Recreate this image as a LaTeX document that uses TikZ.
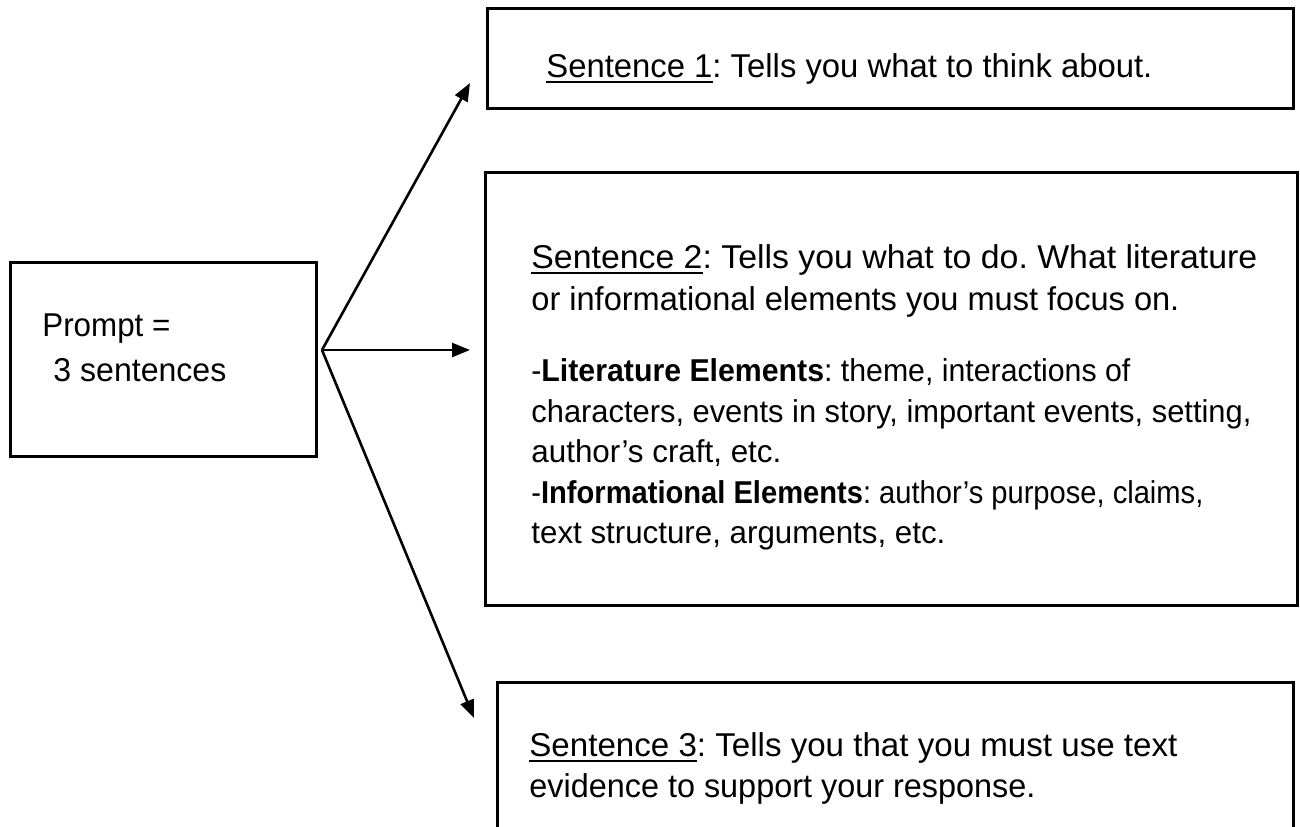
\documentclass[tikz,border=0pt]{standalone}
\usepackage{fontspec}
\setmainfont{Liberation Sans}
\usepackage{graphicx}
\frenchspacing
\newcommand\myul[1]{\setbox0\hbox{#1}\rlap{\rule[-3.2pt]{\wd0}{1.2pt}}#1}
\newsavebox\fitbox
\newcommand\fitw[2]{\sbox\fitbox{#2}\pgfmathsetmacro\fitr{#1/\the\wd\fitbox}\scalebox{\fitr}[1]{\usebox\fitbox}}
\usetikzlibrary{arrows.meta}
\begin{document}
\begin{tikzpicture}[x=0.5pt,y=-0.5pt,
  box/.style={draw, line width=1.5pt, inner sep=0pt},
  txt/.style={anchor=base west, inner sep=0pt, font=\fontsize{16.5}{20}\selectfont},
  smalltxt/.style={anchor=base west, inner sep=0pt, font=\fontsize{15.8}{20}\selectfont},
  arr/.style={line width=1.3pt, -{Triangle[length=9pt,width=7pt]}}]
\useasboundingbox (0,0) rectangle (1300,826);
\clip (0,0) rectangle (1300,826);
\fill[white] (0,0) rectangle (1300,826);

% boxes
\node[box, minimum width=153pt, minimum height=97pt] (prompt) at (163,359) {};
\node[box, minimum width=403pt, minimum height=50pt] (s1) at (890,58) {};
\node[box, minimum width=406pt, minimum height=216.5pt] (s2) at (891,388.5) {};
\node[box, minimum width=398pt, minimum height=109pt] (s3) at (895,791) {};

% texts
\node[txt] (p1) at (42,336) {\fitw{64}{Prompt =}};
\node[txt] (p2) at (53,381) {\fitw{86.5}{3 sentences}};

\node[txt] (t1) at (546,77) {\fitw{303}{\myul{Sentence 1}: Tells you what to think about.}};

\node[txt] (t2a) at (531,268) {\fitw{363}{\myul{Sentence 2}: Tells you what to do. What literature}};
\node[txt] (t2b) at (531,310) {\fitw{324}{or informational elements you must focus on.}};
\node[smalltxt] (t2c) at (531,381) {\fitw{299.5}{-\textbf{Literature Elements}: theme, interactions of}};
\node[smalltxt] (t2d) at (531,422) {\fitw{360}{characters, events in story, important events, setting,}};
\node[smalltxt] (t2e) at (531,462) {\fitw{125}{author's craft, etc.}};
\node[smalltxt] (t2f) at (531,503) {\fitw{336}{-\textbf{Informational Elements}: author's purpose, claims,}};
\node[smalltxt] (t2g) at (531,543) {\fitw{207}{text structure, arguments, etc.}};

\node[txt] (t3a) at (529,756) {\fitw{324}{\myul{Sentence 3}: Tells you that you must use text}};
\node[txt] (t3b) at (529,797) {\fitw{253}{evidence to support your response.}};

% connectors
\coordinate (hub) at (322,350);
\coordinate (e1) at (470,83);
\coordinate (e2) at (470,350);
\coordinate (e3) at (474,718);
\draw[arr] (hub) -- (e1);
\draw[arr] (hub) -- (e2);
\draw[arr] (hub) -- (e3);
\end{tikzpicture}
\end{document}
